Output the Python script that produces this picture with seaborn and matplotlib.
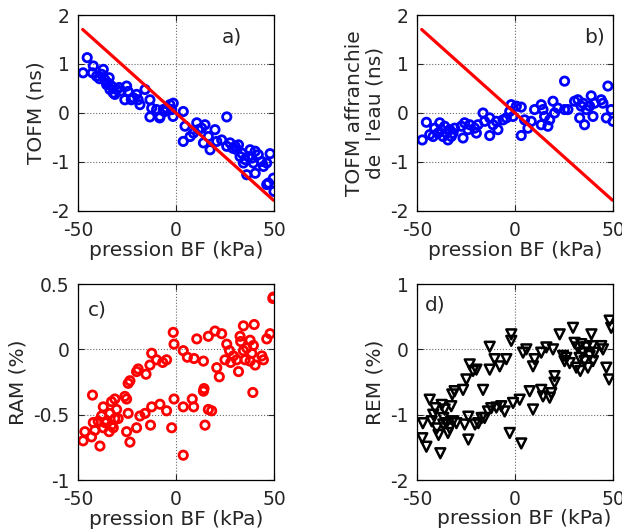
import numpy as np
import pandas as pd
import matplotlib
matplotlib.use('Agg')
import matplotlib.pyplot as plt
from matplotlib.ticker import FormatStrFormatter
import seaborn as sns

# values (pression BF in kPa)
press_a = [-47.4, -45.3, -42.2, -42.6, -37.1, -38.0, -36.3, -34.1, -34.6, -32.9, -32.0, -33.7, -35.4,
           -30.3, -31.2, -25.2, -24.4, -26.1, -20.1, -19.3, -21.8, -18.4, -15.8, -13.3, -12.4, -13.3,
           -9.9, -8.2, -6.5, -4.8, -3.1, -1.4, -2.2, 3.7, 4.6, 3.7, 7.2, 8.9, 10.6, 11.4, 13.1, 14.8,
           14.0, 16.5, 17.4, 19.9, 20.8, 23.3, 25.9, 25.9, 27.6, 30.2, 31.0, 31.9, 32.7, 33.6, 34.4,
           36.1, 37.0, 37.8, 38.7, 39.5, 40.4, 40.4, 43.8, 44.6, 46.3, 47.2, 48.0, 49.7, 50.0,
           -39.0, -28.0, -22.8, -8.3, -5.8, -1.5, 35.2, 42.0, 46.3, 29.0, -40.5, -29.0]
tofm_a = [0.82, 1.13, 0.96, 0.82, 0.89, 0.79, 0.68, 0.72, 0.61, 0.55, 0.41, 0.48, 0.58,
          0.48, 0.38, 0.55, 0.44, 0.27, 0.38, 0.27, 0.31, 0.17, 0.48, 0.27, 0.10, -0.08,
          0.07, -0.07, 0.07, 0.10, 0.17, 0.20, 0.07, 0.03, -0.27, -0.58, -0.48, -0.41, -0.20, -0.34, -0.31, -0.24,
          -0.61, -0.48, -0.75, -0.34, -0.58, -0.55, -0.08, -0.68, -0.61, -0.68, -0.75, -0.65, -0.89, -0.82, -1.02,
          -1.26, -0.89, -0.75, -0.92, -1.02, -0.78, -1.23, -0.99, -1.09, -1.02, -1.43, -0.83, -1.33, -1.60,
          0.70, 0.45, 0.27, -0.10, 0.03, -0.07, -0.95, -0.85, -1.46, -0.72, 0.75, 0.52]

press_b = [-47.3, -45.2, -43.5, -41.0, -41.8, -39.3, -38.4, -37.6, -36.7, -35.9, -35.0, -34.2, -33.3,
           -32.5, -31.6, -30.8, -27.4, -26.5, -25.7, -24.0, -23.1, -20.6, -19.7, -18.9, -16.3, -15.5,
           -12.9, -12.9, -11.2, -9.5, -8.7, -6.1, -4.4, -2.7, -1.9, -1.0, 0.7, 3.2, 3.2, 4.9, 6.6, 8.3,
           10.0, 13.4, 14.3, 13.4, 15.1, 16.8, 17.7, 19.4, 20.2, 21.9, 25.3, 25.3, 27.0, 30.4, 32.1,
           33.0, 33.8, 34.7, 35.5, 36.4, 38.1, 38.9, 39.8, 40.6, 44.0, 44.9, 46.6, 47.4, 49.1, 50.0]
tofm_b = [-0.55, -0.19, -0.44, -0.31, -0.48, -0.41, -0.20, -0.34, -0.48, -0.27, -0.41, -0.55, -0.34,
          -0.48, -0.41, -0.31, -0.27, -0.51, -0.20, -0.34, -0.24, -0.31, -0.41, -0.24, 0.0, -0.17,
          -0.10, -0.46, -0.24, -0.17, -0.34, -0.14, -0.10, 0.03, 0.17, -0.07, 0.14, 0.12, -0.46, -0.14, -0.31, -0.17,
          0.07, 0.17, 0.07, -0.24, -0.07, -0.27, -0.14, 0.24, 0.0, 0.10, 0.65, 0.07, 0.07, 0.24, 0.27,
          -0.10, 0.14, 0.20, -0.24, 0.07, 0.14, 0.35, -0.07, 0.20, 0.27, 0.20, -0.10, 0.55, 0.07, -0.17]

press_c = [-47.4, -46.5, -43.1, -42.6, -42.2, -41.4, -38.8, -39.7, -38.0, -37.1, -37.1, -36.3, -35.4,
           -34.1, -33.7, -32.9, -32.9, -32.0, -31.2, -31.2, -30.3, -29.5, -26.1, -25.2, -24.4, -25.2,
           -23.5, -24.4, -23.5, -20.1, -19.3, -20.1, -18.4, -15.8, -15.3, -13.3, -12.4, -12.4, -13.0,
           -9.9, -8.2, -6.8, -4.8, -4.8, -2.2, -1.4, -1.0, -1.0, 3.7, 3.7, 3.7, 5.8, 8.3, 9.0, 9.2,
           10.6, 14.0, 14.0, 14.3, 14.8, 16.5, 16.5, 18.2, 19.9, 20.8, 22.1, 23.3, 25.0, 25.9, 27.3,
           27.9, 29.3, 31.0, 31.9, 32.7, 33.0, 34.4, 34.4, 35.3, 36.1, 37.8, 37.8, 38.7, 39.2, 39.5,
           39.9, 40.4, 43.8, 44.6, 46.3, 48.0, 49.7, 49.4]
ram_c = [-0.70, -0.63, -0.67, -0.35, -0.56, -0.62, -0.74, -0.55, -0.51, -0.44, -0.60, -0.56, -0.55,
         -0.63, -0.49, -0.40, -0.58, -0.60, -0.38, -0.53, -0.46, -0.53, -0.36, -0.38, -0.49, -0.63,
         -0.71, -0.26, -0.24, -0.17, -0.15, -0.60, -0.51, -0.49, -0.19, -0.12, -0.03, -0.44, -0.58,
         -0.08, -0.42, -0.10, -0.08, -0.47, -0.60, 0.13, 0.04, -0.38, -0.01, -0.44, -0.81, -0.06, -0.38, -0.44, -0.07,
         0.08, -0.32, -0.09, -0.30, -0.58, 0.10, -0.46, -0.47, 0.14, -0.14, -0.21, 0.12, -0.08, 0.04, -0.01,
         -0.10, -0.05, -0.08, -0.17, 0.10, 0.06, 0.18, -0.01, -0.08, 0.01, 0.07, -0.09, -0.03, -0.33, 0.03,
         0.19, -0.12, -0.05, -0.08, 0.08, 0.12, 0.40, 0.39]

press_d = [-47.3, -45.2, -47.0, -43.5, -42.5, -41.7, -40.8, -39.9, -39.0, -38.1, -37.4, -36.6, -36.6,
           -35.9, -35.0, -34.2, -33.3, -32.5, -32.0, -31.6, -30.8, -29.9, -26.5, -25.7, -24.8, -23.8,
           -23.8, -23.1, -21.4, -19.7, -20.4, -18.7, -17.0, -16.3, -15.5, -13.8, -12.9, -12.9, -12.1,
           -10.4, -9.5, -7.8, -7.0, -5.3, -4.4, -2.7, -1.9, -1.9, -1.0, 2.4, 3.2, 4.1, 5.8, 7.5, 9.2,
           10.0, 9.2, 13.4, 13.4, 14.3, 16.0, 17.7, 18.5, 19.4, 20.2, 20.2, 22.8, 24.5, 25.3, 26.2,
           27.9, 29.6, 30.4, 31.3, 32.1, 33.0, 33.3, 33.8, 34.7, 35.5, 36.4, 37.2, 38.1, 39.0, 39.5,
           39.8, 40.6, 44.0, 44.9, 46.6, 48.0, 48.3, 49.1]
rem_d = [-1.36, -1.49, -1.13, -0.77, -1.10, -1.00, -0.90, -1.21, -1.31, -1.59, -0.85, -1.05, -1.15,
         -0.92, -1.13, -1.28, -1.21, -0.87, -0.69, -1.10, -0.64, -1.13, -0.62, -1.15, -0.46, -1.38,
         -1.03, -0.23, -0.33, -0.31, -1.15, -1.13, -1.05, -0.62, -1.05, -0.95, 0.04, -0.31, -0.90,
         -0.15, -0.89, -0.26, -0.87, -0.95, -0.15, -1.28, 0.23, 0.13, -0.82, -0.77, -1.44, -0.05, 0.0, -0.64, -0.26,
         -0.15, -0.92, -0.62, -0.05, -0.72, 0.03, -0.74, -0.67, 0.0, -0.41, -0.51, 0.23, -0.10, -0.18, -0.13,
         -0.21, 0.33, 0.10, -0.28, 0.03, -0.13, -0.33, 0.08, -0.05, -0.18, 0.03, -0.28, -0.10, 0.23, 0.05,
         -0.18, -0.05, 0.05, 0.0, -0.28, -0.46, 0.44, 0.33]

# pente de l'effet de l'eau (ns/kPa), ligne rouge sur a) et b)
water_slope = -0.0358
line_x = [-47.6, 49.7]

sns.set_style('ticks')
plt.rcParams['font.family'] = ['DejaVu Sans']
plt.rcParams['axes.unicode_minus'] = False

fig = plt.figure(figsize=(6.22, 5.32), dpi=100)
ax_a = fig.add_axes([0.1254, 0.6034, 0.3151, 0.3684])
ax_b = fig.add_axes([0.6704, 0.6034, 0.3151, 0.3684])
ax_c = fig.add_axes([0.1254, 0.0977, 0.3151, 0.3684])
ax_d = fig.add_axes([0.6704, 0.0977, 0.3151, 0.3684])

line_df = pd.DataFrame({'x': line_x, 'y': [water_slope * v for v in line_x]})

circ = dict(marker='o', s=36, facecolor='none', linewidth=2.0)
sns.scatterplot(x=press_a, y=tofm_a, ax=ax_a, edgecolor='blue', **circ)
sns.lineplot(data=line_df, x='x', y='y', ax=ax_a, color='red', linewidth=2.3)

sns.scatterplot(x=press_b, y=tofm_b, ax=ax_b, edgecolor='blue', **circ)
sns.lineplot(data=line_df, x='x', y='y', ax=ax_b, color='red', linewidth=2.3)

sns.scatterplot(x=press_c, y=ram_c, ax=ax_c, edgecolor='red', **circ)

sns.scatterplot(x=press_d, y=rem_d, ax=ax_d, marker='v', s=50, facecolor='none',
                edgecolor='black', linewidth=1.8)

fs_tick = 13.5
fs_lab = 14.5

for ax in [ax_a, ax_b, ax_c, ax_d]:
    ax.set_xlim(-50, 50)
    ax.set_xticks([-50, 0, 50])
    ax.grid(True, linestyle=':', color='black', linewidth=0.8, alpha=0.6)
    ax.tick_params(direction='in', top=True, right=True, labelsize=fs_tick, length=4)
    ax.tick_params(axis='x', pad=7)
    ax.tick_params(axis='y', pad=6)
    ax.yaxis.set_major_formatter(FormatStrFormatter('%g'))
    for sp in ax.spines.values():
        sp.set_visible(True)
        sp.set_color('black')
        sp.set_linewidth(0.9)

for ax in [ax_a, ax_b]:
    ax.set_ylim(-2, 2)
    ax.set_yticks([-2, -1, 0, 1, 2])
    ax.set_xlabel('pression BF (kPa)', fontsize=fs_lab, labelpad=1)
ax_c.set_ylim(-1, 0.5)
ax_c.set_yticks([-1, -0.5, 0, 0.5])
ax_d.set_ylim(-2, 1)
ax_d.set_yticks([-2, -1, 0, 1])
ax_c.set_xlabel('pression BF (kPa)', fontsize=fs_lab, labelpad=1)
ax_d.set_xlabel('pression BF (kPa)', fontsize=fs_lab)
ax_d.xaxis.set_label_coords(0.545, -0.15)

ax_a.set_ylabel('TOFM (ns)', fontsize=fs_lab)
ax_b.set_ylabel("TOFM affranchie\nde  l'eau (ns)", fontsize=fs_lab, linespacing=1.1)
ax_c.set_ylabel('RAM (%)', fontsize=fs_lab)
ax_d.set_ylabel('REM (%)', fontsize=fs_lab)

ax_a.text(28.6, 1.55, 'a)', fontsize=fs_lab, ha='center', va='center')
ax_b.text(40.8, 1.55, 'b)', fontsize=fs_lab, ha='center', va='center')
ax_c.text(-40.3, 0.30, 'c)', fontsize=fs_lab, ha='center', va='center')
ax_d.text(-40.8, 0.68, 'd)', fontsize=fs_lab, ha='center', va='center')

fig.savefig('out.png', dpi=100)
